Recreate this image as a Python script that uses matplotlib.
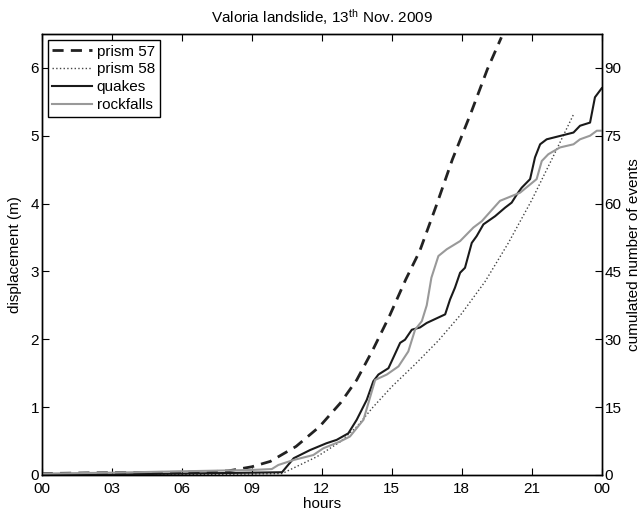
import numpy as np
import matplotlib
matplotlib.use('Agg')
import matplotlib.pyplot as plt

plt.rcParams['font.family'] = ['Liberation Sans', 'DejaVu Sans']
plt.rcParams['mathtext.default'] = 'regular'

# --- dados ---
# prism 57 (deslocamento, m)
p57_h = [0, 2, 4, 6, 7, 8, 9, 9.8, 10.9, 11.9, 12.8, 13.5, 14.2, 14.9, 15.6,
         16.2, 16.9, 17.6, 18.4, 19.1, 19.7]
p57_m = [0.02, 0.03, 0.035, 0.04, 0.045, 0.06, 0.12, 0.2, 0.42, 0.71, 1.06, 1.4,
         1.85, 2.34, 2.88, 3.3, 3.96, 4.65, 5.34, 5.98, 6.45]

# prism 58 (deslocamento, m)
p58_h = [0, 4, 8, 10.3, 10.9, 11.8, 12.8, 13.5, 14.2, 15, 16, 17, 18, 19, 20,
         21, 22, 22.8]
p58_m = [0.0, 0.0, 0.01, 0.02, 0.12, 0.27, 0.49, 0.71, 1.0, 1.3, 1.63, 1.98,
         2.38, 2.85, 3.42, 4.05, 4.75, 5.32]

# quakes (número acumulado de eventos)
qk_h = [0, 3, 6, 9, 10.3, 10.8, 11.5, 12.2, 12.64, 13.14, 13.5, 13.93, 14.21,
        14.43, 14.86, 15.36, 15.57, 15.86, 16.21, 16.5, 17.29, 17.5, 17.71,
        17.93, 18.14, 18.43, 18.64, 18.93, 19.43, 19.86, 20.14, 20.36, 20.57,
        20.93, 21.14, 21.36, 21.64, 22.79, 23.07, 23.5, 23.71, 24]
qk_n = [0, 0.1, 0.3, 0.5, 0.6, 3.7, 5.5, 7.0, 7.75, 9.2, 12.2, 16.6, 20.7,
        22.2, 23.6, 29.2, 29.9, 32.1, 32.6, 33.6, 35.5, 38.8, 41.4, 44.7, 45.8,
        51.3, 52.8, 55.4, 57.2, 59.1, 60.2, 62.0, 63.5, 65.4, 70.2, 73.1, 74.2,
        75.7, 77.2, 77.9, 83.5, 85.5]

# rockfalls (número acumulado de eventos)
rf_h = [0, 3, 6, 9, 9.86, 10.14, 10.79, 11.64, 12.07, 12.79, 13.21, 13.79,
        14.29, 14.79, 15.29, 15.71, 16.0, 16.29, 16.5, 16.7, 17.0, 17.36,
        17.93, 18.5, 18.86, 19.64, 20.5, 21.21, 21.43, 21.71, 22.21, 22.79,
        23.07, 23.5, 23.79, 24]
rf_n = [0.3, 0.5, 0.8, 1.1, 1.3, 2.2, 3.3, 4.4, 5.9, 7.4, 8.5, 12.2, 21.0,
        22.2, 24.0, 27.3, 32.1, 34.0, 37.5, 43.6, 48.4, 49.9, 51.7, 54.7, 56.1,
        60.6, 62.4, 65.4, 69.4, 70.9, 72.4, 73.1, 74.2, 75.0, 76.1, 76.1]

xticks = [0, 3, 6, 9, 12, 15, 18, 21, 24]
xlabels = ['00', '03', '06', '09', '12', '15', '18', '21', '00']

# --- figura ---
fig = plt.figure(figsize=(6.4, 5.14), dpi=100)
ax = fig.add_axes([0.0652, 0.076, 0.875, 0.858])
ax2 = ax.twinx()

l1, = ax.plot(p57_h, p57_m, color='#222222', lw=2.0, dashes=(4, 2.6), label='prism 57')
l2, = ax.plot(p58_h, p58_m, color='#444444', lw=1.0, ls=':', label='prism 58')
l3, = ax2.plot(qk_h, qk_n, color='#1a1a1a', lw=1.5, label='quakes')
l4, = ax2.plot(rf_h, rf_n, color='#999999', lw=1.5, label='rockfalls')

ax.set_xlim(0, 24)
ax.set_ylim(0, 6.5)
ax2.set_ylim(0, 97.5)
ax.set_xticks(xticks)
ax.set_xticklabels(xlabels)
ax.set_yticks([0, 1, 2, 3, 4, 5, 6])
ax2.set_yticks([0, 15, 30, 45, 60, 75, 90])

ax.tick_params(direction='in', length=5, labelsize=11, top=True, right=False, pad=2)
ax.tick_params(axis='x', pad=5)
ax2.tick_params(direction='in', length=5, labelsize=11, pad=2)

ax.set_xlabel('hours', fontsize=11, labelpad=1)
ax.set_ylabel('displacement (m)', fontsize=11, labelpad=6)
ax2.set_ylabel('cumulated number of events', fontsize=11, labelpad=4)
ax.set_title('Valoria landslide, 13$^{th}$ Nov. 2009', fontsize=11, pad=8)

for a in (ax, ax2):
    for s in a.spines.values():
        s.set_linewidth(1.0)

leg = ax2.legend(handles=[l1, l2, l3, l4], loc='upper left', fontsize=11,
                 handlelength=2.6, handletextpad=0.3, borderpad=0.3,
                 labelspacing=0.25, borderaxespad=0.4, fancybox=False,
                 framealpha=1, edgecolor='black')
leg.get_frame().set_linewidth(1.0)

fig.savefig('out.png', dpi=100)
